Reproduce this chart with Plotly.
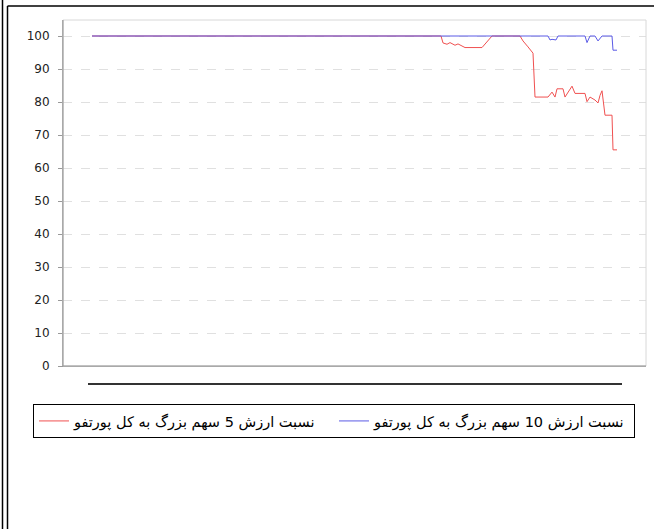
import plotly.graph_objects as go

# day index (arbitrary units along the time axis) and values
red_x = [0, 349, 351, 355, 358, 363, 366, 370, 373, 390, 396, 400, 428, 431, 436, 441, 443,
         456, 460, 463, 465, 471, 473, 480, 483, 493, 495, 498, 503, 506, 508, 510, 513, 520, 521, 525]
red_y = [100, 100, 97.9, 97.5, 98, 97.2, 97.6, 97, 96.5, 96.5, 98.8, 100, 100, 98.5, 96.7, 94.8, 81.5,
         81.5, 83, 81.5, 84, 84, 81.5, 84.8, 82.6, 82.6, 80.1, 81.5, 80.6, 79.7, 82, 83.4, 76, 76, 65.5, 65.5]

blue_x = [0, 456, 458, 460, 464, 466, 493, 495, 498, 503, 506, 510, 520, 521, 525]
blue_y = [100, 100, 98.8, 99, 98.8, 100, 100, 98, 100, 100, 98.5, 100, 100, 95.7, 95.7]

name_5 = "نسبت ارزش 5 سهم بزرگ به کل پورتفو"
name_10 = "نسبت ارزش 10 سهم بزرگ به کل پورتفو"
y_ticks = [0, 10, 20, 30, 40, 50, 60, 70, 80, 90, 100]

L, R, T, B = 63, 646, 20, 366
PW, PH = R - L, B - T


def px(x):
    return (x - L) / PW


def py(y):
    return (B - y) / PH


fig = go.Figure()
fig.add_trace(go.Scatter(x=red_x, y=red_y, mode="lines", name=name_5,
                         line=dict(color="#f05050", width=1)))
fig.add_trace(go.Scatter(x=blue_x, y=blue_y, mode="lines", name=name_10,
                         line=dict(color="#5a5ae6", width=1)))

fig.update_layout(
    width=654, height=529,
    margin=dict(l=L, r=654 - R, t=T, b=529 - B, autoexpand=False),
    paper_bgcolor="white", plot_bgcolor="white",
    font=dict(family="DejaVu Sans", size=12, color="#333"),
    showlegend=True,
    legend=dict(orientation="h", x=px(33), y=py(404), xanchor="left", yanchor="top",
                bordercolor="black", borderwidth=1, bgcolor="white",
                font=dict(family="DejaVu Sans", size=14.5, color="black"),
                entrywidth=255, entrywidthmode="pixels", tracegroupgap=0,
                itemwidth=30),
    xaxis=dict(range=[-29, 554], showgrid=False, showticklabels=False, zeroline=False,
               showline=True, linecolor="#999", linewidth=1, ticks=""),
    yaxis=dict(range=[0, 104.85], tickvals=y_ticks, showgrid=True, gridcolor="#e0e0e0",
               griddash="dash", gridwidth=1, zeroline=False, showline=True,
               linecolor="#999", linewidth=1, ticks="outside", ticklen=4,
               tickcolor="#999", ticklabelstandoff=6,
               tickfont=dict(family="DejaVu Sans", size=12, color="#222")),
    shapes=[
        dict(type="rect", xref="paper", yref="paper", x0=0, x1=1, y0=0, y1=1,
             line=dict(color="#d8d8d8", width=1)),
        dict(type="line", xref="paper", yref="paper", x0=0, x1=0, y0=0, y1=1,
             line=dict(color="#999", width=1)),
        dict(type="line", xref="paper", yref="paper", x0=0, x1=1, y0=0, y1=0,
             line=dict(color="#999", width=1)),
        # black bar under the axis
        dict(type="line", xref="paper", yref="paper", x0=px(88), x1=px(622),
             y0=py(384), y1=py(384), line=dict(color="#333", width=2)),
        # page frame
        dict(type="line", xref="paper", yref="paper", x0=px(2.5), x1=px(2.5),
             y0=py(535), y1=py(-2), line=dict(color="black", width=1.5)),
        dict(type="line", xref="paper", yref="paper", x0=px(7.5), x1=px(7.5),
             y0=py(535), y1=py(6), line=dict(color="black", width=1.5)),
        dict(type="line", xref="paper", yref="paper", x0=px(7.5), x1=px(660),
             y0=py(6), y1=py(6), line=dict(color="black", width=1.5)),
    ],
)

fig.write_html("out.html", config={"displayModeBar": False},
               post_script="document.body.style.margin='0';document.body.style.padding='0';")
